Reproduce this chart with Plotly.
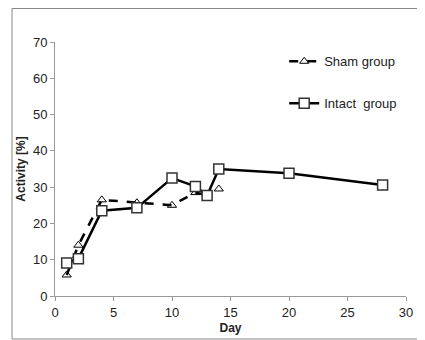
import plotly.graph_objects as go

sham_days = [1, 2, 4, 7, 10, 12, 13]
sham_vals = [5.8, 14.0, 26.5, 25.7, 25.0, 28.5, 27.8]
sham_extra_days = [14]
sham_extra_vals = [29.5]

intact_days = [1, 2, 4, 7, 10, 12, 13, 14, 20, 28]
intact_vals = [9.1, 10.3, 23.5, 24.3, 32.5, 30.2, 27.7, 35.0, 33.8, 30.6]

x_ticks = [0, 5, 10, 15, 20, 25, 30]
y_ticks = [0, 10, 20, 30, 40, 50, 60, 70]

FONT = "Liberation Sans, Arial, sans-serif"

# page body has an 8px margin; the figure is sized/offset to compensate
L, T, R, B = 47, 34, 19, 44
W, H = 417, 332
PW = W - L - R
PH = H - T - B

fig = go.Figure()
fig.add_trace(go.Scatter(
    x=sham_days, y=sham_vals, mode="lines+markers", name="Sham group",
    line=dict(color="black", width=2.5, dash="dash"),
    marker=dict(symbol="triangle-up-open", size=8, color="black", line=dict(width=1)),
    legendgroup="sham",
))
fig.add_trace(go.Scatter(
    x=sham_extra_days, y=sham_extra_vals, mode="markers", name="Sham group",
    marker=dict(symbol="triangle-up-open", size=8, color="black", line=dict(width=1)),
    showlegend=False, legendgroup="sham",
))
fig.add_trace(go.Scatter(
    x=intact_days, y=intact_vals, mode="lines+markers", name="Intact  group",
    line=dict(color="black", width=2.5),
    marker=dict(symbol="square", size=10, color="white", line=dict(width=1.5, color="#333")),
    legendgroup="intact",
))

fig.update_layout(
    width=W, height=H,
    margin=dict(l=L, r=R, t=T, b=B, autoexpand=False),
    paper_bgcolor="white", plot_bgcolor="white",
    font=dict(family=FONT, size=13, color="#222"),
    showlegend=True,
    legend=dict(x=0.653, y=0.983, xanchor="left", yanchor="top",
                bgcolor="rgba(0,0,0,0)", tracegroupgap=22,
                font=dict(size=13, family=FONT, color="#222")),
    xaxis=dict(range=[0, 30], tickvals=x_ticks, showgrid=False, zeroline=False,
               showline=True, linecolor="#999", linewidth=1, ticks="outside",
               tickcolor="#999", ticklen=4, tickfont=dict(size=13),
               title=dict(text="<b>Day</b>", standoff=5, font=dict(size=12))),
    yaxis=dict(range=[0, 70], tickvals=y_ticks, showgrid=False, zeroline=False,
               showline=True, linecolor="#999", linewidth=1, ticks="outside",
               tickcolor="#999", ticklen=4, tickfont=dict(size=13),
               title=dict(text="<b>Activity [%]</b>", standoff=4, font=dict(size=12))),
    shapes=[dict(type="rect", xref="paper", yref="paper",
                 x0=(4 - L) / PW, x1=(413 - L) / PW,
                 y0=(PH + T - 331) / PH, y1=(PH + T - 0.5) / PH,
                 line=dict(color="#888", width=1), layer="below")],
)

fig.write_html("out.html")
